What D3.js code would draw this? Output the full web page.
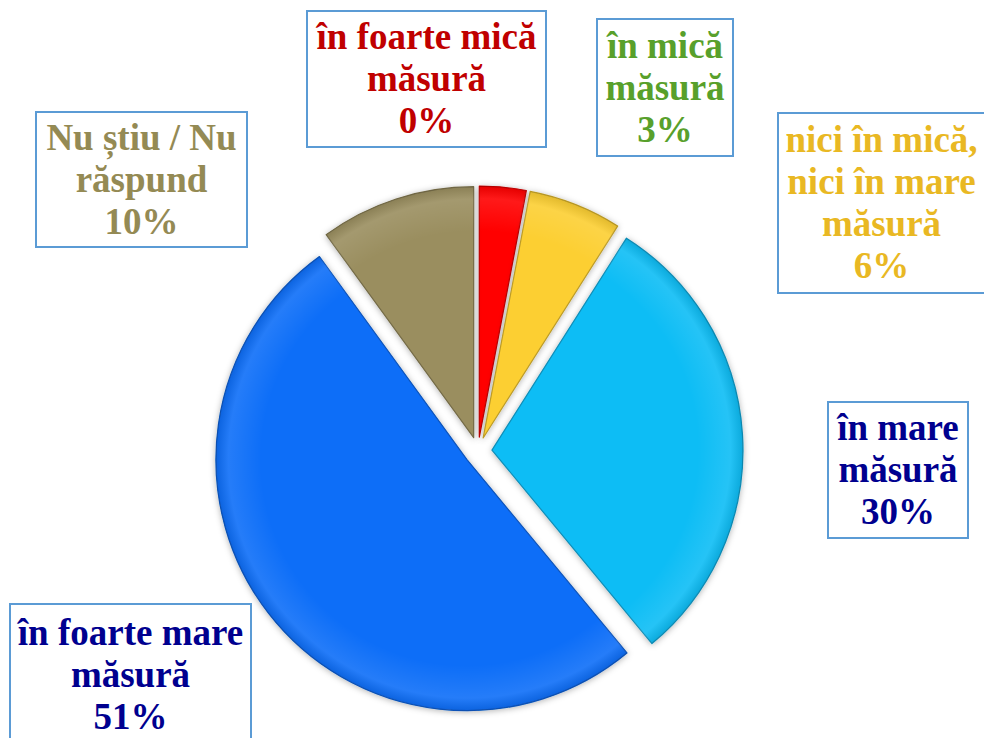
<!DOCTYPE html>
<html>
<head>
<meta charset="utf-8">
<script src="https://cdn.jsdelivr.net/npm/d3@7.9.0/dist/d3.min.js"></script>
<style>
  html, body { margin: 0; padding: 0; background: #fff; }
  svg { display: block; }
  .lbl { font-family: "Liberation Serif", "Times New Roman", serif; font-weight: bold; font-size: 37px; }
</style>
</head>
<body>
<div id="chart"></div>
<script>
// data, clockwise from 12 o'clock
const categories = [
  'în foarte mică măsură',
  'în mică măsură',
  'nici în mică, nici în mare măsură',
  'în mare măsură',
  'în foarte mare măsură',
  'Nu știu / Nu răspund'
];
const values = [0, 3, 6, 30, 51, 10];
const labelLines = [
  ['în foarte mică', 'măsură'],
  ['în mică', 'măsură'],
  ['nici în mică,', 'nici în mare', 'măsură'],
  ['în mare', 'măsură'],
  ['în foarte mare', 'măsură'],
  ['Nu știu / Nu', 'răspund']
];
const sliceColors = ['#c00000', '#ff0000', '#fccf33', '#0ebdf5', '#0a6ef8', '#9a8e5f'];
const labelColors = ['#c00000', '#58a02b', '#e9b823', '#00008f', '#00008f', '#948a54'];

// label box layout (placed by hand like in the original)
const labelBoxes = [
  { x: 307, y: 11, w: 239, h: 136 },
  { x: 597, y: 19, w: 136, h: 137 },
  { x: 778, y: 113, w: 207, h: 180 },
  { x: 828, y: 402, w: 140, h: 136 },
  { x: 10, y: 604, w: 241, h: 142 },
  { x: 36, y: 112, w: 211, h: 135 }
];

const width = 984;
const height = 738;
const cx = 478, cy = 451;
const radius = 251;
const explode = 14;
const lineH = 42;

const svg = d3.select('#chart')
  .append('svg')
  .attr('width', width)
  .attr('height', height)
  .attr('viewBox', `0 0 ${width} ${height}`);

const defs = svg.append('defs');
const shadow = defs.append('filter').attr('id', 'shadow')
  .attr('x', '-20%').attr('y', '-20%').attr('width', '140%').attr('height', '140%');
shadow.append('feDropShadow')
  .attr('dx', 0).attr('dy', 1).attr('stdDeviation', 3)
  .attr('flood-color', '#000').attr('flood-opacity', 0.3);

// soft highlight toward the rim
const shine = defs.append('radialGradient').attr('id', 'shine')
  .attr('gradientUnits', 'userSpaceOnUse')
  .attr('cx', 0).attr('cy', 0).attr('r', radius);
shine.append('stop').attr('offset', '0%').attr('stop-color', '#fff').attr('stop-opacity', 0);
shine.append('stop').attr('offset', '82%').attr('stop-color', '#fff').attr('stop-opacity', 0);
shine.append('stop').attr('offset', '95%').attr('stop-color', '#fff').attr('stop-opacity', 0.1);
shine.append('stop').attr('offset', '100%').attr('stop-color', '#000').attr('stop-opacity', 0.1);

const data = categories.map((c, i) => ({ name: c, value: values[i], i }));

const pie = d3.pie()
  .sort(null)
  .value(d => d.value);

const arc = d3.arc()
  .innerRadius(0)
  .outerRadius(radius);

const arcs = pie(data).filter(d => d.value > 0);

const g = svg.append('g').attr('transform', `translate(${cx},${cy})`);

const slices = g.selectAll('g.slice')
  .data(arcs)
  .join('g')
  .attr('class', 'slice')
  .attr('transform', d => {
    const a = (d.startAngle + d.endAngle) / 2;
    return `translate(${Math.sin(a) * explode},${-Math.cos(a) * explode})`;
  });

slices.append('path')
  .attr('d', arc)
  .attr('fill', d => sliceColors[d.data.i])
  .attr('stroke', d => d3.color(sliceColors[d.data.i]).darker(0.8))
  .attr('stroke-width', 1.2)
  .attr('stroke-linejoin', 'round')
  .attr('filter', 'url(#shadow)');

slices.append('path')
  .attr('d', arc)
  .attr('fill', 'url(#shine)')
  .attr('pointer-events', 'none');

// label boxes
const labels = svg.append('g').selectAll('g.label')
  .data(data)
  .join('g')
  .attr('class', 'label');

labels.append('rect')
  .attr('x', d => labelBoxes[d.i].x)
  .attr('y', d => labelBoxes[d.i].y)
  .attr('width', d => labelBoxes[d.i].w)
  .attr('height', d => labelBoxes[d.i].h)
  .attr('fill', '#fff')
  .attr('stroke', '#5b9bd5')
  .attr('stroke-width', 2);

labels.each(function (d) {
  const box = labelBoxes[d.i];
  const lines = labelLines[d.i].concat([d.value + '%']);
  const mx = box.x + box.w / 2;
  const my = box.y + box.h / 2;
  d3.select(this).append('text')
    .attr('class', 'lbl')
    .attr('text-anchor', 'middle')
    .attr('fill', labelColors[d.i])
    .selectAll('tspan')
    .data(lines)
    .join('tspan')
    .attr('x', mx)
    .attr('y', (l, k) => my + (k - (lines.length - 1) / 2) * lineH + 12)
    .text(l => l);
});
</script>
</body>
</html>
